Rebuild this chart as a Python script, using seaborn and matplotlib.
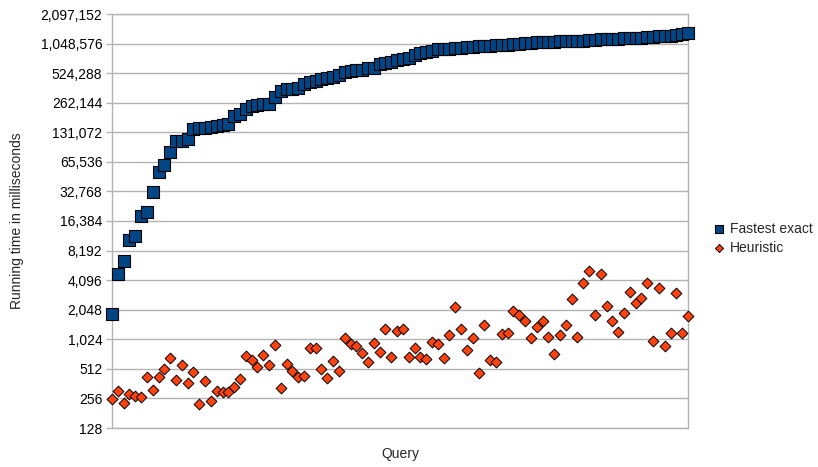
import matplotlib
matplotlib.use("Agg")
import matplotlib.pyplot as plt
from matplotlib.ticker import FixedLocator, FuncFormatter, NullLocator
import seaborn as sns
import pandas as pd
import numpy as np

# Running times (ms) per query, queries sorted by exact-solver time
exact_ms = [
    1850, 4715, 6420, 10530, 11560, 18430, 20250, 32500, 51400, 61500,
    82600, 107700, 107700, 112000, 142000, 145200, 146400, 148600, 151000, 157200,
    160900, 191400, 199000, 227600, 242500, 250000, 252000, 254000, 302000, 345500,
    359000, 365000, 373500, 404000, 427000, 437500, 455000, 462600, 473600, 500000,
    541000, 553000, 562000, 566000, 589000, 598000, 645000, 660000, 681000, 708000,
    735000, 741000, 800000, 845000, 866000, 879000, 913000, 927000, 934000, 949000,
    956000, 971000, 978000, 986000, 993000, 1000000, 1008000, 1016000, 1024000, 1040000,
    1045000, 1057000, 1073000, 1082000, 1090000, 1099000, 1099000, 1107000, 1107000, 1116000,
    1116000, 1125000, 1134000, 1143000, 1160000, 1160000, 1169000, 1169000, 1188000, 1197000,
    1207000, 1207000, 1216000, 1235000, 1245000, 1254000, 1264000, 1284000, 1304000, 1335000,
]
heuristic_ms = [
    251, 304, 232, 284, 271, 263, 426, 312, 426, 507,
    666, 394, 557, 364, 472, 223, 382, 241, 304, 300,
    300, 337, 400, 692, 630, 539, 708, 557, 896, 324,
    570, 491, 426, 436, 829, 829, 507, 416, 620, 487,
    1047, 911, 875, 748, 605, 945, 765, 1294, 671, 1243,
    1294, 671, 829, 671, 645, 967, 923, 666, 1141, 2196,
    1313, 798, 1047, 461, 1432, 630, 605, 1151, 1178, 1986,
    1808, 1571, 1047, 1376, 1571, 1088, 725, 1134, 1432, 2630,
    1088, 3857, 5074, 1808, 4700, 2249, 1560, 1205, 1883, 3124,
    2413, 2714, 3804, 976, 3431, 875, 1195, 3052, 1195, 1767,
]
series_names = ["Fastest exact", "Heuristic"]
y_ticks = [128, 256, 512, 1024, 2048, 4096, 8192, 16384, 32768, 65536,
           131072, 262144, 524288, 1048576, 2097152]

query = np.arange(len(exact_ms))
df_exact = pd.DataFrame({"query": query, "ms": exact_ms})
df_heur = pd.DataFrame({"query": query, "ms": heuristic_ms})

sns.set_style("white")
plt.rcParams["font.family"] = ["Liberation Sans", "DejaVu Sans"]
plt.rcParams["font.size"] = 10

fig = plt.figure(figsize=(8.18, 4.67), dpi=100)
ax = fig.add_axes([112 / 818, 1 - 428 / 467, (688 - 112) / 818, (428 - 14) / 467])

grid_c = "#b3b3b3"
ax.set_yscale("log", base=2)

sns.scatterplot(data=df_exact, x="query", y="ms", marker="s", s=68,
                color="#004586", edgecolor="black", linewidth=0.8,
                clip_on=False, zorder=3, ax=ax, label=series_names[0])
sns.scatterplot(data=df_heur, x="query", y="ms", marker="D", s=30,
                color="#ff420e", edgecolor="black", linewidth=0.7,
                clip_on=False, zorder=3, ax=ax, label=series_names[1])

ax.set_xlim(0, len(exact_ms) - 1)
ax.set_ylim(y_ticks[0], y_ticks[-1])
ax.yaxis.set_major_locator(FixedLocator(y_ticks))
ax.yaxis.set_minor_locator(NullLocator())
ax.yaxis.set_major_formatter(FuncFormatter(lambda v, p: f"{int(round(v)):,}"))
ax.xaxis.set_major_locator(NullLocator())

ax.grid(axis="y", color=grid_c, linewidth=1.0)
ax.set_axisbelow(True)
for sp in ax.spines.values():
    sp.set_color(grid_c)
    sp.set_linewidth(1.0)
ax.tick_params(axis="y", which="major", length=4, width=1, color=grid_c,
               labelsize=10, labelcolor="black", pad=3, left=True)

ax.set_xlabel("Query", fontsize=10, labelpad=14)
ax.set_ylabel("Running time in milliseconds", fontsize=10, labelpad=12)

handles, labels = ax.get_legend_handles_labels()
ax.get_legend().remove()
fig.legend(handles, labels, loc="center left", bbox_to_anchor=(0.857, 0.49),
           frameon=False, fontsize=10, handlelength=0.8, handletextpad=0.4,
           labelspacing=0.35, markerscale=0.75)

fig.savefig("out.png", dpi=100)
